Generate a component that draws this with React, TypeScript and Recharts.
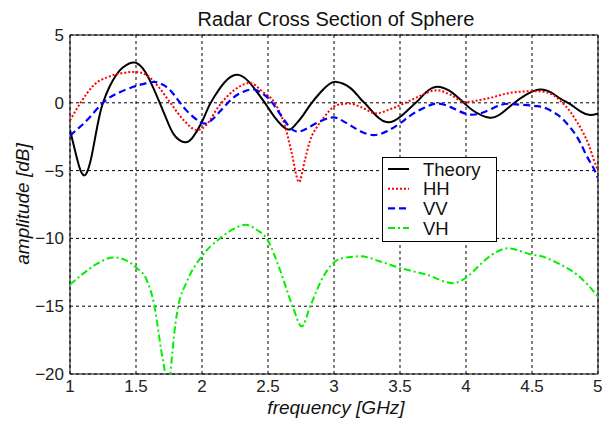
import React from "react";
import { LineChart, Line, XAxis, YAxis, CartesianGrid, ReferenceArea } from "recharts";

const theoryFreq = [1.0, 1.05, 1.08, 1.106, 1.13, 1.16, 1.19, 1.22, 1.25, 1.3, 1.35, 1.4, 1.485, 1.55, 1.6, 1.68, 1.75, 1.8, 1.87, 1.93, 2.0, 2.05, 2.1, 2.17, 2.263, 2.35, 2.42, 2.49, 2.55, 2.64, 2.7, 2.76, 2.82, 2.9, 2.96, 3.02, 3.12, 3.2, 3.25, 3.32, 3.41, 3.5, 3.58, 3.64, 3.7, 3.78, 3.87, 3.93, 3.99, 4.05, 4.18, 4.28, 4.36, 4.45, 4.56, 4.65, 4.72, 4.79, 4.87, 4.94, 5.0];
const theoryAmp = [-2.0, -4.0, -5.0, -5.35, -5.1, -4.1, -2.6, -1.1, 0.0, 1.2, 2.05, 2.6, 2.97, 2.55, 1.75, 0.0, -1.65, -2.5, -2.91, -2.55, -1.4, -0.3, 0.55, 1.5, 2.06, 1.6, 0.75, -0.2, -1.05, -1.93, -1.7, -1.0, -0.15, 0.8, 1.35, 1.54, 1.12, 0.3, -0.2, -0.95, -1.44, -1.05, -0.35, 0.2, 0.8, 1.18, 0.91, 0.47, -0.05, -0.55, -1.1, -0.7, -0.05, 0.57, 0.98, 0.73, 0.28, -0.1, -0.65, -0.9, -0.78];

const hhFreq = [1.0, 1.08, 1.18, 1.3, 1.4, 1.49, 1.58, 1.68, 1.76, 1.86, 1.96, 2.0, 2.06, 2.1, 2.19, 2.29, 2.36, 2.46, 2.55, 2.63, 2.68, 2.735, 2.78, 2.82, 2.87, 2.92, 3.02, 3.12, 3.2, 3.32, 3.42, 3.54, 3.65, 3.78, 3.88, 3.99, 4.1, 4.2, 4.31, 4.51, 4.6, 4.66, 4.72, 4.79, 4.84, 4.89, 4.93, 4.96, 5.0];
const hhAmp = [-1.3, 0.0, 1.3, 1.95, 2.2, 2.28, 2.04, 1.06, 0.0, -1.27, -2.0, -1.9, -1.3, -0.65, 0.46, 1.23, 1.47, 0.81, 0.0, -1.76, -3.72, -5.85, -4.2, -2.74, -1.8, -1.12, -0.17, -0.05, -0.3, -0.78, -0.5, 0.0, 0.5, 0.93, 0.6, 0.05, 0.2, 0.4, 0.69, 0.86, 0.8, 0.57, 0.1, -0.66, -1.4, -2.25, -3.1, -3.97, -5.0];

const vvFreq = [1.0, 1.06, 1.13, 1.25, 1.36, 1.48, 1.56, 1.64, 1.71, 1.78, 1.88, 1.985, 2.05, 2.13, 2.23, 2.31, 2.39, 2.47, 2.54, 2.64, 2.73, 2.84, 2.97, 3.045, 3.12, 3.2, 3.3, 3.4, 3.5, 3.6, 3.7, 3.78, 3.88, 3.99, 4.11, 4.26, 4.36, 4.46, 4.54, 4.61, 4.68, 4.74, 4.84, 4.91, 4.96, 5.0];
const vvAmp = [-2.45, -1.9, -1.27, 0.0, 0.7, 1.18, 1.4, 1.54, 1.3, 0.69, -0.54, -1.4, -1.45, -0.7, 0.32, 0.8, 0.98, 0.6, -0.1, -1.51, -2.13, -1.64, -1.1, -1.22, -1.64, -2.1, -2.38, -2.1, -1.51, -0.8, -0.3, -0.05, -0.3, -0.78, -0.78, -0.17, -0.1, -0.17, -0.25, -0.42, -0.8, -1.27, -2.5, -3.84, -4.7, -5.56];

const vhFreq = [1.0, 1.1, 1.2, 1.33, 1.42, 1.505, 1.58, 1.64, 1.69, 1.72, 1.74, 1.76, 1.8, 1.82, 1.88, 2.0, 2.14, 2.24, 2.33, 2.42, 2.49, 2.59, 2.69, 2.755, 2.82, 2.92, 3.03, 3.1, 3.2, 3.35, 3.5, 3.7, 3.9, 4.0, 4.1, 4.18, 4.32, 4.48, 4.6, 4.69, 4.84, 4.92, 5.0];
const vhAmp = [-13.4, -12.6, -11.9, -11.4, -11.6, -12.18, -13.04, -15.0, -18.2, -20.0, -22.0, -20.0, -16.2, -15.0, -13.3, -11.3, -9.97, -9.3, -9.0, -9.4, -10.0, -12.3, -15.1, -16.5, -15.0, -12.8, -11.57, -11.4, -11.32, -11.7, -12.18, -12.67, -13.3, -12.9, -12.0, -11.32, -10.73, -11.15, -11.4, -11.8, -12.67, -13.4, -14.3];

const xTicks = [1, 1.5, 2, 2.5, 3, 3.5, 4, 4.5, 5];
const yTicks = [-20, -15, -10, -5, 0, 5];

const seriesNames = ["Theory", "HH", "VV", "VH"];

const toPoints = (f: number[], a: number[]) => f.map((x, i) => ({ x, y: a[i] }));

const FONT = "'Liberation Sans', Arial, Helvetica, sans-serif";

const styles = [
  { color: "#000000", dash: undefined as string | undefined, width: 2, curve: "natural" },
  { color: "#ff0000", dash: "2 2", width: 2, curve: "monotone" },
  { color: "#0000ff", dash: "7 4", width: 2.2, curve: "natural" },
  { color: "#00f000", dash: "7 3 2 3", width: 2, curve: "monotone" },
];

export default function App() {
  const datasets = [
    toPoints(theoryFreq, theoryAmp),
    toPoints(hhFreq, hhAmp),
    toPoints(vvFreq, vvAmp),
    toPoints(vhFreq, vhAmp),
  ];
  const fmt = (v: number) => String(v).replace("-", "\u2212");
  return (
    <div style={{ position: "absolute", left: 0, top: 0, width: 602, height: 426, background: "#fff", fontFamily: FONT }}>
      <LineChart width={602} height={426} margin={{ top: 35, right: 4, bottom: 0, left: 0 }}>
        <CartesianGrid stroke="#000" strokeDasharray="3 3" strokeWidth={1} />
        <XAxis
          type="number"
          dataKey="x"
          domain={[1, 5]}
          ticks={xTicks}
          allowDataOverflow
          height={52}
          tickLine={false}
          axisLine={false}
          tickSize={0}
          tickMargin={6}
          tick={{ fill: "#222", fontSize: 17, fontFamily: FONT }}
          tickFormatter={fmt}
        />
        <YAxis
          type="number"
          domain={[-20, 5]}
          ticks={yTicks}
          allowDataOverflow
          width={70}
          tickLine={false}
          axisLine={false}
          tickSize={0}
          tickMargin={6}
          tick={{ fill: "#222", fontSize: 17, fontFamily: FONT }}
          tickFormatter={fmt}
        />
        {datasets.map((d, i) => (
          <Line
            key={seriesNames[i]}
            data={d}
            dataKey="y"
            name={seriesNames[i]}
            type={styles[i].curve as any}
            stroke={styles[i].color}
            strokeWidth={styles[i].width}
            strokeDasharray={styles[i].dash}
            dot={false}
            activeDot={false}
            isAnimationActive={false}
          />
        ))}
        <ReferenceArea x1={1} x2={5} y1={-20} y2={5} fill="none" fillOpacity={0} stroke="#000" strokeWidth={1} strokeOpacity={1} />
      </LineChart>
      <svg width={602} height={426} style={{ position: "absolute", left: 0, top: 0, pointerEvents: "none" }}>
        <text x={336} y={26} textAnchor="middle" fontSize={20} fill="#111" fontFamily={FONT}>
          Radar Cross Section of Sphere
        </text>
        <text x={336} y={414} textAnchor="middle" fontSize={19} fontStyle="italic" fill="#111" fontFamily={FONT}>
          frequency [GHz]
        </text>
        <text transform="translate(29,204) rotate(-90)" textAnchor="middle" fontSize={19} fontStyle="italic" fill="#111" fontFamily={FONT}>
          amplitude [dB]
        </text>
        <rect x={382.5} y={157.5} width={114} height={84} fill="#fff" stroke="#000" strokeWidth={1} />
        {seriesNames.map((n, i) => {
          const cy = 169 + i * 19.7;
          return (
            <g key={n}>
              <line x1={388} x2={409} y1={cy} y2={cy} stroke={styles[i].color} strokeWidth={styles[i].width} strokeDasharray={styles[i].dash} />
              <text x={423} y={cy + 6.5} fontSize={18.5} fill="#111" fontFamily={FONT}>
                {n}
              </text>
            </g>
          );
        })}
      </svg>
    </div>
  );
}
